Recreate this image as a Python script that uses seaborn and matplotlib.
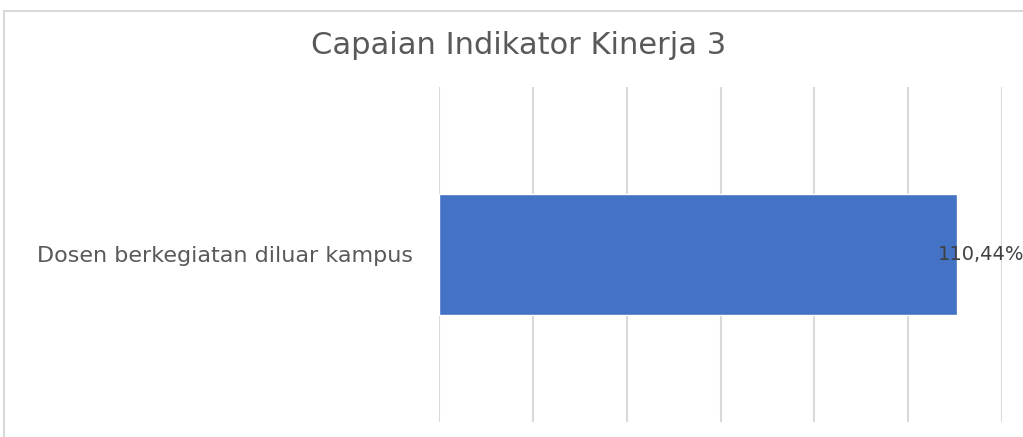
import matplotlib
matplotlib.use("Agg")
import matplotlib.pyplot as plt
import seaborn as sns
import pandas as pd
from matplotlib.patches import Rectangle

categories = ["Dosen berkegiatan diluar kampus"]
values = [110.44]
value_labels = ["110,44%"]
title = "Capaian Indikator Kinerja 3"

df = pd.DataFrame({"kategori": categories, "capaian": values})

sns.set_style("white")
plt.rcParams["font.family"] = ["DejaVu Sans"]

fig = plt.figure(figsize=(10.23, 4.37), dpi=100)
ax = fig.add_axes([439 / 1023, 1 - 422 / 437, (1002 - 439) / 1023, (422 - 87) / 437])

sns.barplot(data=df, x="capaian", y="kategori", color="#4472C4", width=0.36,
            saturation=1, ax=ax)

ax.set_xlim(0, 120)
ax.set_ylim(0.5, -0.5)
ax.set_xticks(range(0, 121, 20))
ax.set_xticklabels([])
ax.tick_params(axis="x", length=0)
ax.tick_params(axis="y", length=0, labelsize=16, labelcolor="#595959", pad=19)
ax.xaxis.grid(True, color="#d9d9d9", linewidth=1.5)
ax.set_axisbelow(True)
for s in ax.spines.values():
    s.set_visible(False)
ax.set_xlabel("")
ax.set_ylabel("")

labels = ax.bar_label(ax.containers[0], labels=value_labels, padding=-14,
                      fontsize=14, color="#404040")
for t in labels:
    t.set_clip_on(False)

fig.text(519 / 1023, 1 - 45 / 437, title, ha="center", va="center",
         fontsize=22, color="#595959")

fig.patches.append(Rectangle((4 / 1023, -0.05), 1.1, 1.05 - 11 / 437,
                             transform=fig.transFigure, fill=False,
                             edgecolor="#d9d9d9", linewidth=1.5))

fig.savefig("out.png", dpi=100, facecolor="white")
